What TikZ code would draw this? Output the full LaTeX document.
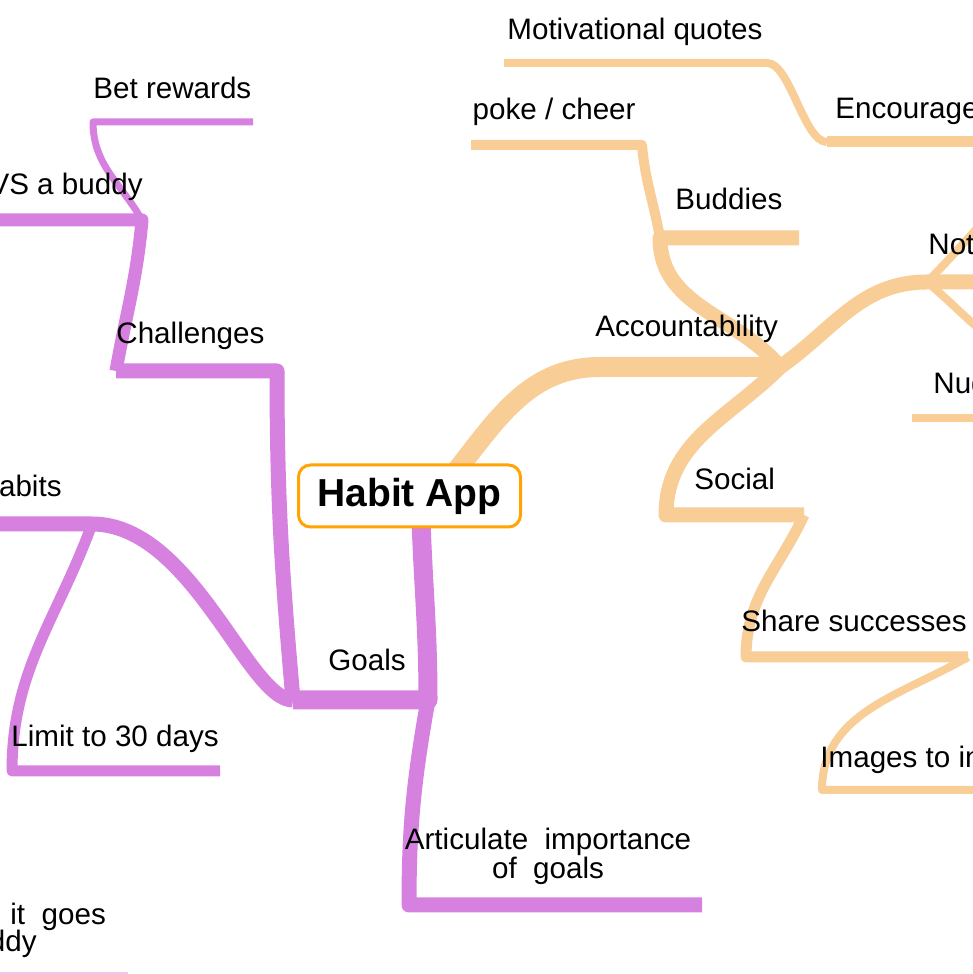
\documentclass[tikz,border=0pt]{standalone}
\usepackage{fontspec}
\setmainfont{Liberation Sans}

\definecolor{goalpurple}{HTML}{D680E0}
\definecolor{socialtan}{HTML}{F8CD96}
\definecolor{rootorange}{HTML}{FFA400}

\begin{document}
\begin{tikzpicture}[x=0.5pt, y=0.5pt,
  every node/.style={inner sep=0pt, font=\fontsize{14.8}{14.5}\selectfont},
  topic/.style={anchor=base west},
  topic left/.style={anchor=base east},
  root/.style={draw=rootorange, line width=1.5pt, fill=white, rounded corners=6pt,
    minimum width=111pt, minimum height=31pt, font=\fontsize{19.5}{20}\selectfont\bfseries},
  purple branch/.style={draw=goalpurple, line width=#1, line join=round},
  tan branch/.style={draw=socialtan, line width=#1, line join=round}
]
\useasboundingbox (0,0) rectangle (973,974);
\clip (0,0) rectangle (973,974);

\path
(421,454) coordinate (root-s)
(457,504) coordinate (root-n)
% goals side
(293,274) coordinate (goals-l) (428,274) coordinate (goals-r)
(409,69) coordinate (art-l) (702,69) coordinate (art-r)
(116,603) coordinate (chal-l) (277,603) coordinate (chal-r)
(-30,754) coordinate (vs-l) (142,754) coordinate (vs-r)
(93,852) coordinate (bet-l) (253,852) coordinate (bet-r)
(-30,450) coordinate (hab-l) (92,450) coordinate (hab-r)
(12,203) coordinate (lim-l) (220,203) coordinate (lim-r)
(-30,-2.5) coordinate (goes-l) (128,-2.5) coordinate (goes-r)
% accountability side
(600,607) coordinate (acc-l) (780,607) coordinate (acc-r)
(660,736) coordinate (bud-l) (799,736) coordinate (bud-r)
(642,829) coordinate (poke-r) (471,829) coordinate (poke-l)
(666,459) coordinate (soc-l) (804,459) coordinate (soc-r)
(746,317) coordinate (sh-l) (968,317) coordinate (sh-r)
(822,184) coordinate (img-l) (1000,184) coordinate (img-r)
(927,692) coordinate (not-l) (1000,692) coordinate (not-r)
(1005,775) coordinate (not-up) (1005,625) coordinate (not-dn)
(912,556) coordinate (nud-l) (1000,556) coordinate (nud-r)
(827,832) coordinate (enc-l) (1000,832) coordinate (enc-r)
(767,911) coordinate (mot-r) (504,911) coordinate (mot-l)
;

% Goals
\draw[purple branch=9.5pt] (root-s) to[out=-88, in=90] (goals-r) -- (goals-l);
\draw[purple branch=7.5pt] (goals-r) to[out=-100, in=90] (art-l) -- (art-r);
\draw[purple branch=7.5pt] (goals-l) to[out=95, in=-90] (chal-r) -- (chal-l);
\draw[purple branch=6.5pt] (chal-l) to[out=80, in=-95] (vs-r) -- (vs-l);
\draw[purple branch=3.5pt] (vs-r) to[out=120, in=-90] (bet-l) -- (bet-r);
\draw[purple branch=7.5pt] (goals-l) .. controls +(-45,0) and +(100,0) .. (hab-r) -- (hab-l);
\draw[purple branch=5.5pt] (hab-r) to[out=-110, in=90] (lim-l) -- (lim-r);
\draw[purple branch=4pt, draw=goalpurple!45] (goes-l) -- (goes-r);

% Accountability
\draw[tan branch=10pt] (root-n) to[out=52, in=180] (acc-l) -- (acc-r);
\draw[tan branch=7.5pt] (acc-r) to[out=130, in=-90] (bud-l) -- (bud-r);
\draw[tan branch=5pt] (bud-l) to[out=100, in=-85] (poke-r) -- (poke-l);
\draw[tan branch=7.5pt] (acc-r) to[out=-135, in=90] (soc-l) -- (soc-r);
\draw[tan branch=5.5pt] (soc-r) to[out=-115, in=90] (sh-l) -- (sh-r);
\draw[tan branch=4pt] (sh-r) to[out=-150, in=90] (img-l) -- (img-r);
\draw[tan branch=7.5pt] (acc-r) to[out=35, in=180] (not-l) -- (not-r);
\draw[tan branch=4pt] (not-l) to[out=45, in=225] (not-up);
\draw[tan branch=4pt] (not-l) to[out=-40, in=145] (not-dn);
\draw[tan branch=4pt] (nud-l) -- (nud-r);
\draw[tan branch=5.5pt] (enc-l) -- (enc-r);
\draw[tan branch=4pt] (enc-l) to[out=180, in=0, looseness=0.6] (mot-r) -- (mot-l);

\node[root] (habit) at (409.5,478) {Habit App};

\node[topic] (goals) at (328,303) {Goals};
\node[align=center] (articulate) at (548,118) {Articulate\ \ importance\\of\ \ goals};
\node[topic] (challenges) at (116,630) {Challenges};
\node[topic left] (vs) at (143,779) {VS a buddy};
\node[topic] (bet) at (93,875) {Bet rewards};
\node[topic left] (habits) at (62,477) {abits};
\node[topic] (limit) at (11,227) {Limit to 30 days};
\node[topic] (goes) at (10,49) {it\ \ goes};
\node[topic left] (goes2) at (37,22) {ddy};

\node[topic] (accountability) at (595,637) {Accountability};
\node[topic] (buddies) at (675,764) {Buddies};
\node[topic left] (poke) at (636,854) {poke / cheer};
\node[topic] (social) at (694,484) {Social};
\node[topic] (share) at (741,342) {Share successes};
\node[topic] (images) at (820,206) {Images to in};
\node[topic] (not) at (928,719) {Not};
\node[topic] (nud) at (933,580) {Nud};
\node[topic] (encourage) at (835,855) {Encourage};
\node[topic] (motivational) at (507,934) {Motivational quotes};

\end{tikzpicture}
\end{document}
